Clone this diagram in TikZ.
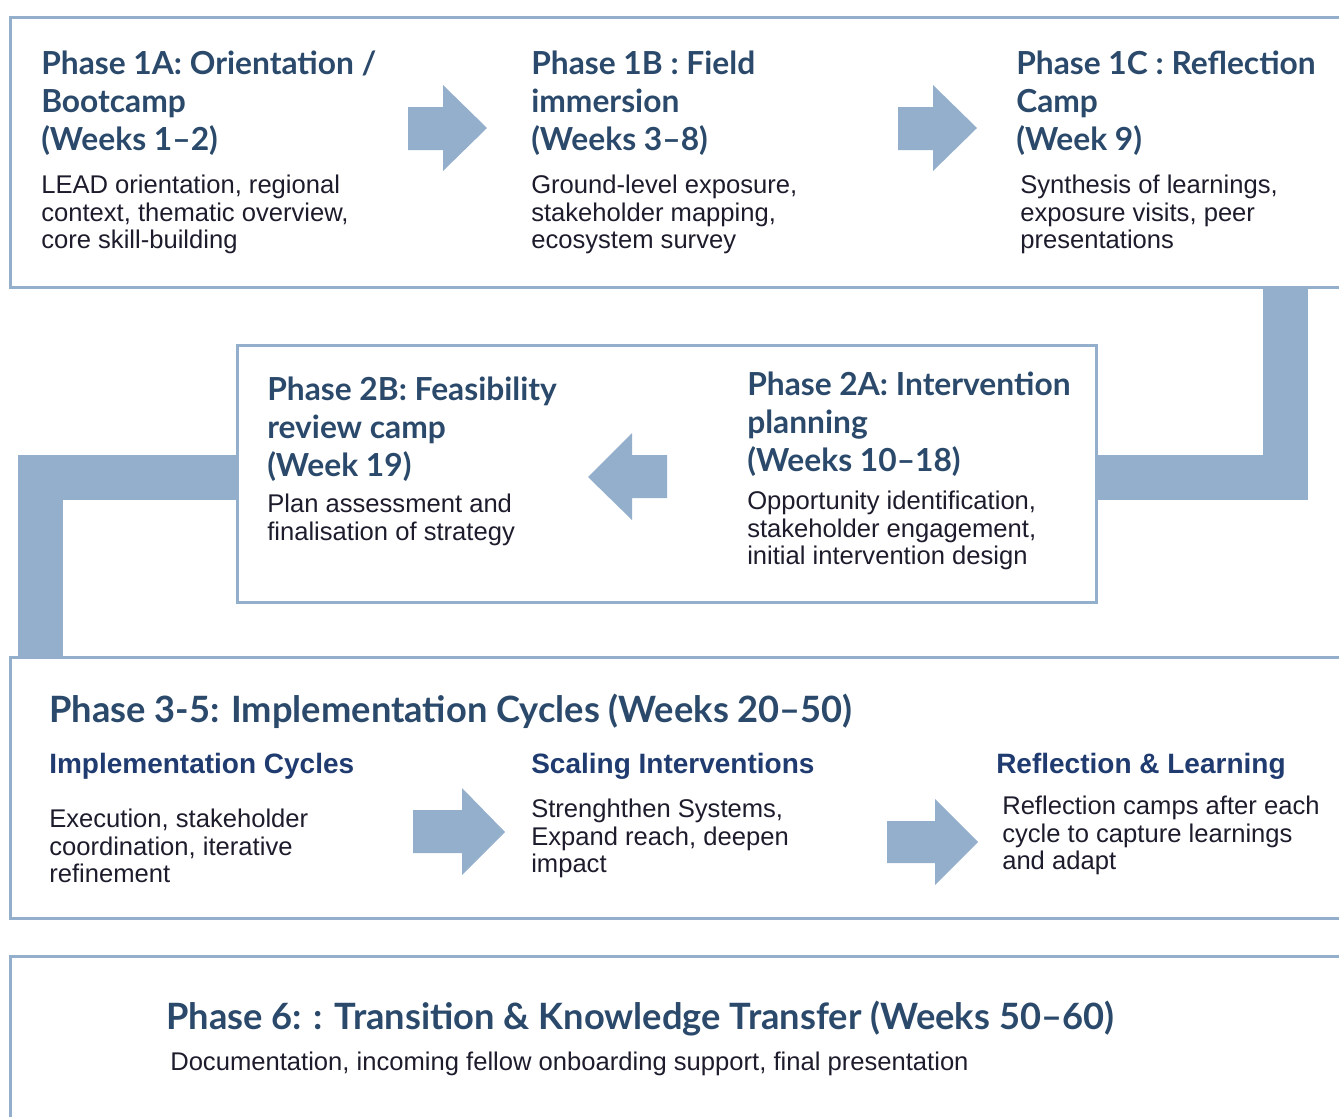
\documentclass[tikz,border=0pt]{standalone}
\usepackage{fontspec}
\setmainfont{Liberation Sans}
\newfontfamily\headfont{Lato}
\usetikzlibrary{fit}

\definecolor{barblue}{HTML}{94AFCB}
\definecolor{headblue}{HTML}{2B4A6B}
\definecolor{subblue}{HTML}{1F3B70}
\definecolor{bodyink}{HTML}{1C1C2C}

\tikzset{
  phasebox/.style={draw=barblue, line width=2.25pt, inner sep=0pt},
  connector/.style={draw=barblue, line width=33.75pt, line join=miter},
  blockarrow/.style={fill=barblue},
  phasehead/.style={anchor=north west, inner sep=0pt, align=left, text=headblue,
    font=\headfont\bfseries\fontsize{23.8}{28.5}\selectfont},
  phasebody/.style={anchor=north west, inner sep=0pt, align=left, text=bodyink,
    font=\fontsize{19.2}{20.6}\selectfont},
  bighead/.style={anchor=north west, inner sep=0pt, text=headblue,
    font=\headfont\bfseries\fontsize{27.2}{33}\selectfont},
  cyclehead/.style={anchor=north west, inner sep=0pt, text=subblue,
    font=\bfseries\fontsize{21}{25}\selectfont}
}

\begin{document}
\begin{tikzpicture}[x=0.75pt, y=-0.75pt]
        \useasboundingbox (0,0) rectangle (1339,1117);

        % phase boxes
        \node[phasebox, fit={(10.5,17) (1350,287)}] (p1) {};
        \node[phasebox, fit={(237,345) (1096,602)}] (p2) {};
        \node[phasebox, fit={(10.5,657) (1350,918)}] (p3) {};
        \node[phasebox, fit={(10.5,956) (1350,1135)}] (p4) {};

        % connectors between the rows
        \coordinate (rturn) at (1285.5,477.5);
        \coordinate (lturn) at (40,477.5);
        \draw[connector] (p1.south -| rturn) |- (p2.east |- rturn);
        \draw[connector] (p2.west |- lturn) -| (p3.north -| lturn);

        % block arrows
        \fill[blockarrow] (408,107) -- (443,107) -- (443,85) -- (487,128) -- (443,171) -- (443,150) -- (408,150) -- cycle;
        \fill[blockarrow] (898,107) -- (933,107) -- (933,85) -- (977,128) -- (933,171) -- (933,150) -- (898,150) -- cycle;
        \fill[blockarrow] (667,455) -- (632,455) -- (632,433) -- (588,477) -- (632,520) -- (632,498) -- (667,498) -- cycle;
        \fill[blockarrow] (413,810) -- (462,810) -- (462,788) -- (505,832) -- (462,875) -- (462,853) -- (413,853) -- cycle;
        \fill[blockarrow] (887,821) -- (935,821) -- (935,799) -- (978,842) -- (935,885) -- (935,863) -- (887,863) -- cycle;

        % row 1
        \node[phasehead] (h1a) at (41,51) {Phase 1A: Orientation /\\Bootcamp\\(Weeks 1–2)};
        \node[phasebody] (b1a) at (41,175) {LEAD orientation, regional\\context, thematic overview,\\core skill-building};
        \node[phasehead] (h1b) at (531,51) {Phase 1B : Field\\immersion\\(Weeks 3–8)};
        \node[phasebody] (b1b) at (531,175) {Ground-level exposure,\\stakeholder mapping,\\ecosystem survey};
        \node[phasehead] (h1c) at (1016,51) {Phase 1C : Reflection\\Camp\\(Week 9)};
        \node[phasebody] (b1c) at (1020,175) {Synthesis of learnings,\\exposure visits, peer\\presentations};

        % row 2
        \node[phasehead] (h2b) at (267,377) {Phase 2B: Feasibility\\review camp\\(Week 19)};
        \node[phasebody] (b2b) at (267,494) {Plan assessment and\\finalisation of strategy};
        \node[phasehead] (h2a) at (747,372) {Phase 2A: Intervention\\planning\\(Weeks 10–18)};
        \node[phasebody] (b2a) at (747,491) {Opportunity identification,\\stakeholder engagement,\\initial intervention design};

        % row 3
        \node[bighead] (h35) at (49,694) {Phase 3-5: Implementation Cycles (Weeks 20–50)};
        \node[cyclehead] (c1) at (49,753) {Implementation Cycles};
        \node[cyclehead] (c2) at (531,753) {Scaling Interventions};
        \node[cyclehead] (c3) at (996,753) {Reflection \& Learning};
        \node[phasebody] (d1) at (49,809) {Execution, stakeholder\\coordination, iterative\\refinement};
        \node[phasebody] (d2) at (531,799) {Strenghthen Systems,\\Expand reach, deepen\\impact};
        \node[phasebody] (d3) at (1002,796) {Reflection camps after each\\cycle to capture learnings\\and adapt};

        % row 4
        \node[bighead] (h6) at (166,1001) {Phase 6: : Transition \& Knowledge Transfer (Weeks 50–60)};
        \node[phasebody] (b6) at (170,1052) {Documentation, incoming fellow onboarding support, final presentation};

\end{tikzpicture}
\end{document}
